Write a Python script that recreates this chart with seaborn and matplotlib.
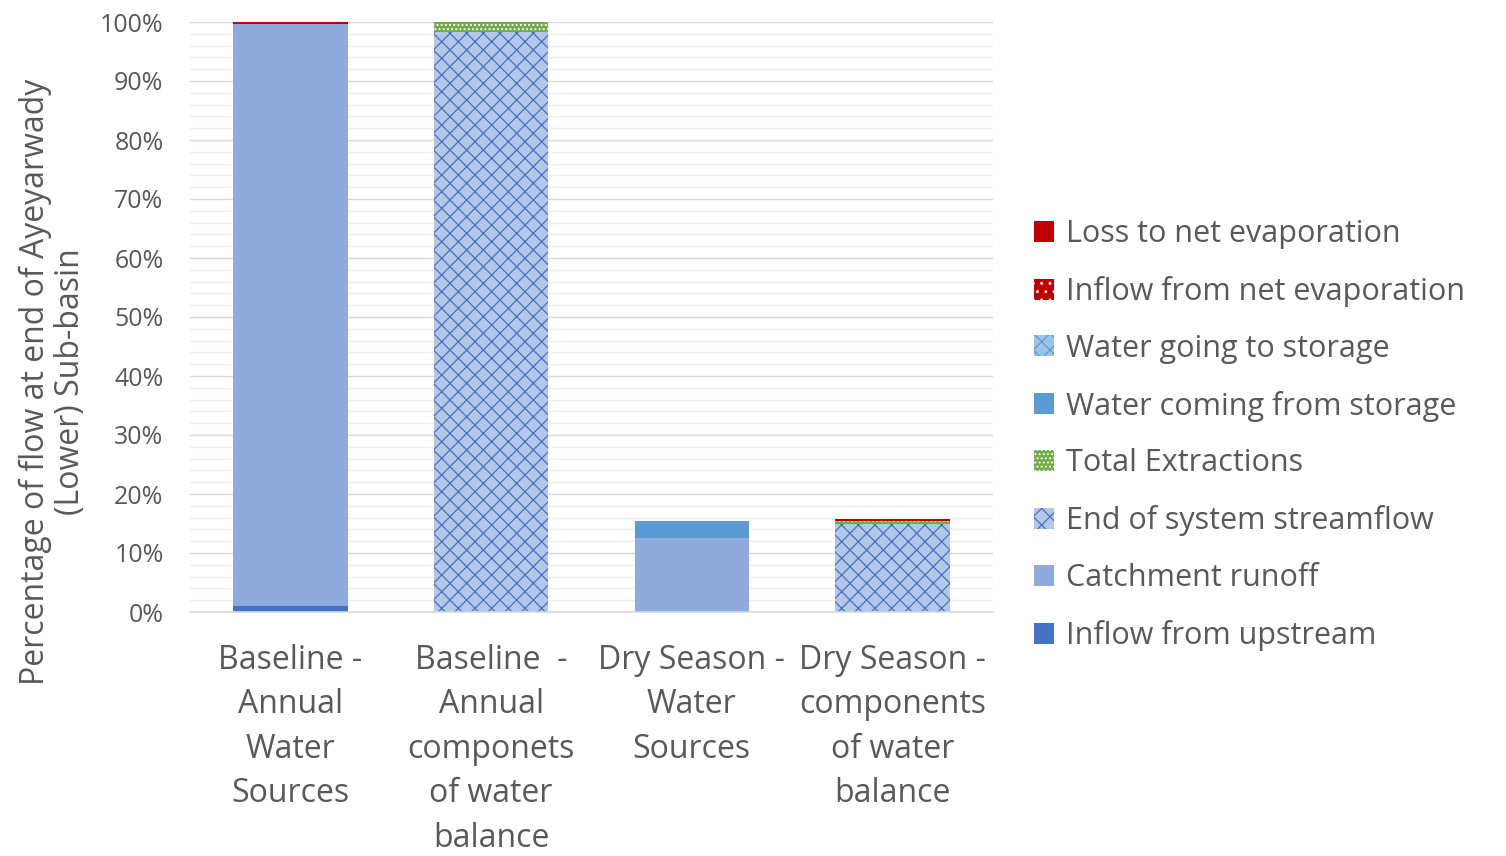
"""
Stacked water balance bars for the Ayeyarwady (Lower) sub-basin
"""
import numpy as np
import pandas as pd
import matplotlib
matplotlib.use("Agg")
import matplotlib.pyplot as plt
import seaborn as sns
from matplotlib.patches import Patch
from matplotlib.ticker import MultipleLocator, PercentFormatter

categories = [
    "Baseline -\nAnnual\nWater\nSources",
    "Baseline  -\nAnnual\ncomponets\nof water\nbalance",
    "Dry Season -\nWater\nSources",
    "Dry Season -\ncomponents\nof water\nbalance",
]

# series, bottom of the stack first (values in %)
inflow_upstream = [1.0, 0.0, 0.0, 0.0]
catchment_runoff = [98.6, 0.0, 12.5, 0.0]
end_streamflow = [0.0, 98.3, 0.0, 14.9]
total_extractions = [0.0, 1.7, 0.0, 0.5]
water_from_storage = [0.0, 0.0, 2.9, 0.0]
water_to_storage = [0.0, 0.0, 0.0, 0.0]
inflow_net_evap = [0.0, 0.0, 0.0, 0.0]
loss_net_evap = [0.4, 0.0, 0.0, 0.3]

series = [
    ("Inflow from upstream", inflow_upstream, "#4472C4", None, None),
    ("Catchment runoff", catchment_runoff, "#8FAADC", None, None),
    ("End of system streamflow", end_streamflow, "#B4C7E7", "xx", "#4472C4"),
    ("Total Extractions", total_extractions, "#70AD47", "....", "white"),
    ("Water coming from storage", water_from_storage, "#5B9BD5", None, None),
    ("Water going to storage", water_to_storage, "#9DC3E6", "xx", "#5B9BD5"),
    ("Inflow from net evaporation", inflow_net_evap, "#C00000", "..", "white"),
    ("Loss to net evaporation", loss_net_evap, "#C00000", None, None),
]

text_col = "#595959"

sns.set_theme(style="white")
plt.rcParams["font.family"] = ["Open Sans", "DejaVu Sans"]
plt.rcParams["hatch.linewidth"] = 0.9

fig = plt.figure(figsize=(15.06, 8.56), dpi=100)
ax = fig.add_axes([190 / 1506, 1 - 612 / 856, (993 - 190) / 1506, (612 - 22) / 856])

# cumulative tops, drawn from the top layer down so lower layers cover
tops = np.cumsum(np.array([s[1] for s in series]), axis=0)
for i in range(len(series) - 1, -1, -1):
    name, vals, col, hatch, hcol = series[i]
    df = pd.DataFrame({"cat": categories, "val": tops[i]})
    sns.barplot(data=df, x="cat", y="val", order=categories, color=col,
                saturation=1, width=0.57, hatch=hatch,
                edgecolor=hcol if hatch else col, linewidth=0,
                errorbar=None, ax=ax)

ax.set_ylim(0, 100)
ax.set_xlim(-0.5, 3.5)
ax.yaxis.set_major_locator(MultipleLocator(10))
ax.yaxis.set_minor_locator(MultipleLocator(2))
ax.yaxis.set_major_formatter(PercentFormatter(decimals=0))
ax.grid(axis="y", which="major", color="#D9D9D9", lw=1.0)
ax.grid(axis="y", which="minor", color="#EFEFEF", lw=1.0)
ax.set_axisbelow(True)
for sp in ["top", "right", "left"]:
    ax.spines[sp].set_visible(False)
ax.spines["bottom"].set_color("#D9D9D9")
ax.spines["bottom"].set_linewidth(1.2)
ax.tick_params(axis="y", length=0, pad=19, labelsize=18, labelcolor=text_col)
ax.tick_params(axis="x", length=0, pad=23, labelsize=23, labelcolor=text_col)
for lab in ax.get_xticklabels():
    lab.set_linespacing(1.46)
ax.set_xlabel("")
ax.set_ylabel("Percentage of flow at end of Ayeyarwady\n(Lower) Sub-basin",
              fontsize=23, color=text_col, linespacing=1.1)
ax.yaxis.set_label_coords(-0.128, 0.39)

handles = []
for name, vals, col, hatch, hcol in reversed(series):
    handles.append(Patch(facecolor=col, hatch=hatch,
                         edgecolor=hcol if hatch else col, lw=0, label=name))
leg = fig.legend(handles=handles, loc="center left",
                 bbox_to_anchor=(1006 / 1506, 1 - 435 / 856),
                 frameon=False, fontsize=22, labelcolor=text_col,
                 handlelength=0.68, handleheight=0.68, handletextpad=0.4,
                 labelspacing=0.88)

fig.savefig("out.png", dpi=100)
